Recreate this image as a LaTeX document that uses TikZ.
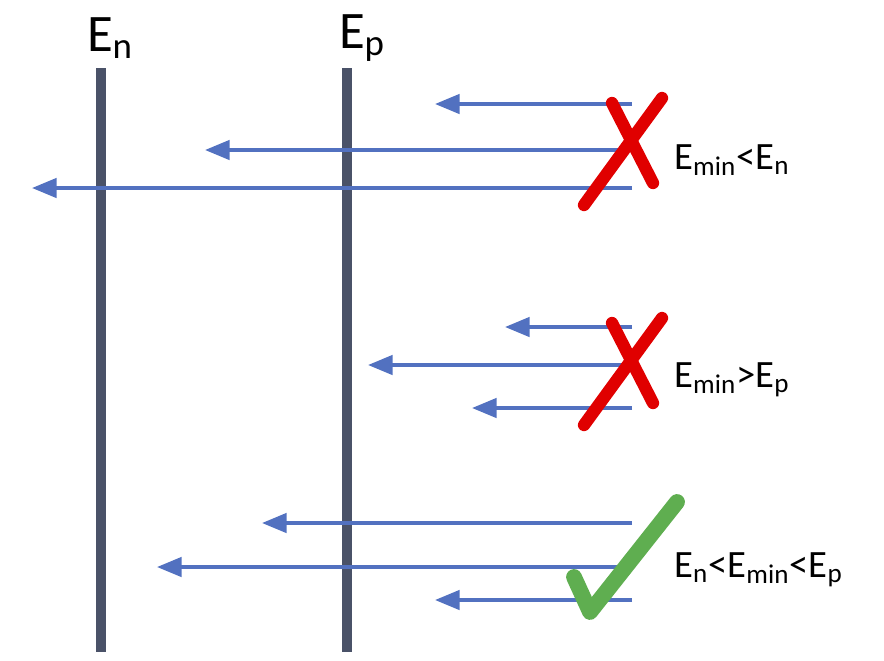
\documentclass[tikz,border=0pt]{standalone}
\usepackage{fontspec}
\setmainfont{Carlito}
\usetikzlibrary{arrows.meta}
\definecolor{barcol}{HTML}{4A5268}
\definecolor{arrcol}{HTML}{5271C0}
\definecolor{nocol}{HTML}{E00000}
\definecolor{yescol}{HTML}{5FAE50}
\tikzset{
  level/.style={line width=12pt*0.5, barcol},
  beam/.style={line width=2pt, arrcol, -{Triangle[length=14pt,width=11pt]}},
  nomark/.style={line width=7pt, nocol, line cap=round},
  yesmark/.style={line width=9pt, yescol, line cap=round, line join=round},
  cond/.style={anchor=west, inner sep=0pt, font=\fontsize{22}{24}\selectfont}
}
\begin{document}
\begin{tikzpicture}[x=0.02cm,y=-0.02cm]
    \useasboundingbox (0,0) rectangle (884,660);

    % Energy levels
    \draw[level] (101,68) -- (101,652);
    \draw[level] (347,68) -- (347,652);
    \node[font=\fontsize{30}{32}\selectfont] (En) at (110,38) {E\textsubscript{n}};
    \node[font=\fontsize{30}{32}\selectfont] (Ep) at (362,38) {E\textsubscript{p}};

    % Arrows
    \foreach \y/\x in {104/435, 150/205, 188/32, 327/505, 365/368, 408/472, 523/262, 567/157, 600/435}
        \draw[beam] (632,\y) -- (\x,\y);

    % Marks
    \draw[nomark] (662,98) -- (584,205);
    \draw[nomark] (612,103) -- (653,183);
    \draw[nomark] (662,318) -- (584,425);
    \draw[nomark] (612,323) -- (653,403);
    \draw[yesmark] (574,577) -- (590,612) -- (677,502);

    % Conditions
    \node[cond] (c1) at (674,160) {E\textsubscript{min}<E\textsubscript{n}};
    \node[cond] (c2) at (674,380) {E\textsubscript{min}>E\textsubscript{p}};
    \node[cond] (c3) at (674,570) {E\textsubscript{n}<E\textsubscript{min}<E\textsubscript{p}};
\end{tikzpicture}
\end{document}
